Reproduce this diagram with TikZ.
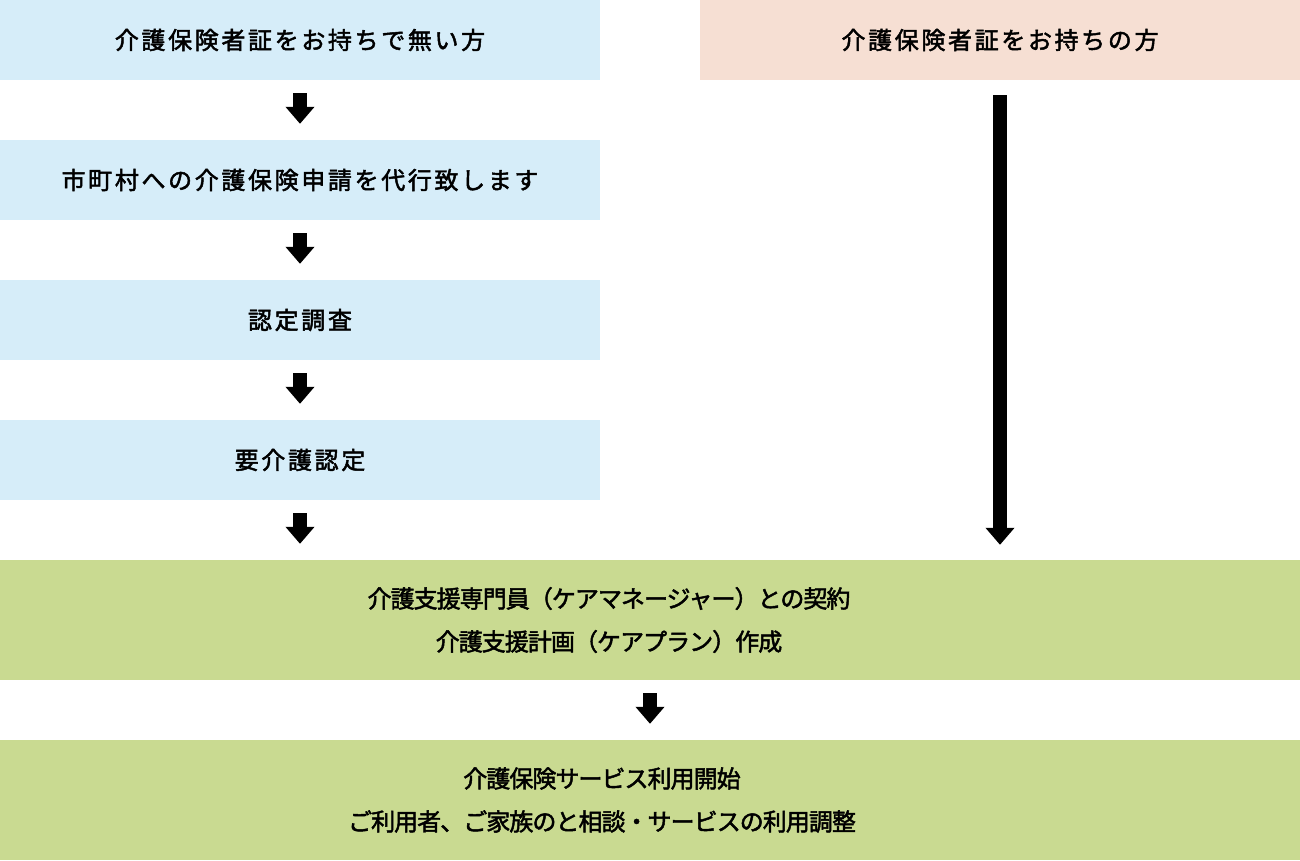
\documentclass[tikz,border=0pt]{standalone}
\usepackage{fontspec}
\usetikzlibrary{arrows.meta}
\newfontfamily\cjkwide[LetterSpace=11,FakeBold=2]{Noto Sans CJK JP}
\newfontfamily\cjk[LetterSpace=-4,FakeBold=2]{Noto Sans CJK JP}
\definecolor{boxblue}{HTML}{D6EDF9}
\definecolor{boxpeach}{HTML}{F6DFD3}
\definecolor{boxgreen}{HTML}{C9DA91}
\tikzset{
  stepbox/.style={rectangle, inner sep=0pt, minimum width=600pt, minimum height=80pt, fill=boxblue, font=\cjkwide\fontsize{24}{28}\selectfont, text=black},
  havebox/.style={stepbox, fill=boxpeach},
  widebox/.style={rectangle, inner sep=0pt, minimum width=1300pt, minimum height=120pt, fill=boxgreen},
  widetext/.style={inner sep=0pt, align=center, font=\cjk\fontsize{24}{43}\selectfont, text=black},
  blockarrow/.style={line width=14pt, -{Triangle[width=28pt,length=17pt]}, shorten <=13pt, shorten >=16pt}
}
\begin{document}
\begin{tikzpicture}[x=1pt,y=-1pt]
\useasboundingbox (0,0) rectangle (1300,860);
\node[stepbox] (n1) at (300,40) {介護保険者証をお持ちで無い方};
\node[havebox] (r1) at (1000,40) {介護保険者証をお持ちの方};
\node[stepbox] (n2) at (300,180) {市町村への介護保険申請を代行致します};
\node[stepbox] (n3) at (300,320) {認定調査};
\node[stepbox] (n4) at (300,460) {要介護認定};
\node[widebox] (g1) at (650,620) {};
\node[widetext] (t1) at (609,620) {介護支援専門員（ケアマネージャー）との契約\\介護支援計画（ケアプラン）作成};
\node[widebox] (g2) at (650,800) {};
\node[widetext] (t2) at (602,800) {介護保険サービス利用開始\\ご利用者、ご家族のと相談・サービスの利用調整};
\draw[blockarrow] (n1) -- (n2);
\draw[blockarrow] (n2) -- (n3);
\draw[blockarrow] (n3) -- (n4);
\draw[blockarrow] (n4.south) -- (n4.south |- g1.north);
\draw[blockarrow, shorten <=15pt, shorten >=15pt] (r1.south) -- (r1.south |- g1.north);
\draw[blockarrow] (g1) -- (g2);
\end{tikzpicture}
\end{document}
